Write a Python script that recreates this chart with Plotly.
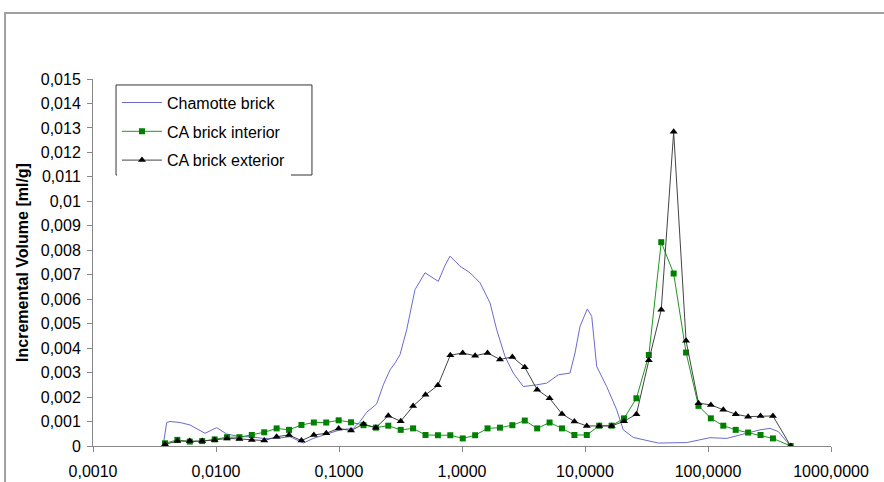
import plotly.graph_objects as go

# ---------------- data ----------------
chamotte_d = [0.003727, 0.003973, 0.004227, 0.005096, 0.006144, 0.007180, 0.008139, 0.01013,
              0.01222, 0.01567, 0.01890, 0.02424, 0.03114, 0.03997, 0.05126, 0.06181, 0.07943,
              0.1019, 0.1307, 0.1482, 0.1680, 0.2025, 0.2292, 0.2598, 0.2853, 0.3132, 0.3551,
              0.4148, 0.5002, 0.5494, 0.6417, 0.7274, 0.7988, 0.9632, 1.161, 1.401, 1.689,
              1.915, 2.237, 2.613, 3.150, 4.049, 4.883, 6.066, 7.551, 8.292, 9.107, 10.44,
              11.34, 12.45, 15.01, 18.10, 20.48, 24.70, 31.74, 39.44, 67.11, 103.8, 141.9,
              206.4, 264.8, 319.2, 372.9, 436.3, 479.2]
chamotte_v = [0.00005, 0.00096, 0.00100, 0.00096, 0.00086, 0.00068, 0.00052, 0.00075,
              0.00049, 0.00038, 0.00038, 0.00031, 0.00031, 0.00038, 0.00012, 0.00031, 0.00050,
              0.00066, 0.00072, 0.00100, 0.00138, 0.00172, 0.00250, 0.00311, 0.00339, 0.00373,
              0.00475, 0.00639, 0.00708, 0.00694, 0.00673, 0.00738, 0.00776, 0.00735, 0.00708,
              0.00667, 0.00585, 0.00475, 0.00366, 0.00298, 0.00243, 0.00250, 0.00257, 0.00291,
              0.00298, 0.00380, 0.00489, 0.00560, 0.00530, 0.00325, 0.00243, 0.00148, 0.00066,
              0.00035, 0.00022, 0.00012, 0.00014, 0.00034, 0.00031, 0.00052, 0.00066, 0.00072,
              0.00059, 0.00018, 0.00003]

ca_d = [0.00385, 0.00485, 0.00612, 0.00772, 0.00975, 0.01229, 0.01550, 0.01955, 0.02466,
        0.03111, 0.03924, 0.04950, 0.06245, 0.07877, 0.09936, 0.1253, 0.1581, 0.1994, 0.2516,
        0.3174, 0.4003, 0.5050, 0.6370, 0.8035, 1.0136, 1.279, 1.613, 2.035, 2.567, 3.238,
        4.085, 5.153, 6.500, 8.200, 10.34, 13.05, 16.46, 20.76, 26.19, 33.04, 41.68, 52.58,
        66.33, 83.67, 105.5, 133.2, 168.0, 211.9, 267.3, 337.2, 470.0]

ca_interior_v = [0.00011, 0.00025, 0.00018, 0.00020, 0.00027, 0.00036, 0.00036, 0.00045,
                 0.00056, 0.00072, 0.00066, 0.00086, 0.00096, 0.00096, 0.00105, 0.00097,
                 0.00085, 0.00075, 0.00083, 0.00066, 0.00072, 0.00045, 0.00044, 0.00044,
                 0.00031, 0.00044, 0.00072, 0.00075, 0.00085, 0.00104, 0.00072, 0.00096,
                 0.00072, 0.00045, 0.00045, 0.00083, 0.00083, 0.00113, 0.00195, 0.00372,
                 0.00833, 0.00705, 0.00382, 0.00164, 0.00113, 0.00083, 0.00066, 0.00055,
                 0.00045, 0.00031, 0.0]

ca_exterior_v = [0.00007, 0.00020, 0.00020, 0.00020, 0.00025, 0.00031, 0.00029, 0.00025,
                 0.00022, 0.00038, 0.00045, 0.00022, 0.00045, 0.00052, 0.00072, 0.00063,
                 0.00090, 0.00075, 0.00124, 0.00101, 0.00163, 0.00209, 0.00248, 0.00371,
                 0.00380, 0.00369, 0.00380, 0.00354, 0.00364, 0.00322, 0.00230, 0.00195,
                 0.00131, 0.00100, 0.00082, 0.00082, 0.00082, 0.00101, 0.00130, 0.00350,
                 0.00557, 0.01284, 0.00430, 0.00175, 0.00168, 0.00148, 0.00130, 0.00120,
                 0.00123, 0.00123, 0.0]

x_tickvals = [0.001, 0.01, 0.1, 1, 10, 100, 1000]
x_ticktext = ["0,0010", "0,0100", "0,1000", "1,0000", "10,0000", "100,0000", "1000,0000"]
y_tickvals = [0, 0.001, 0.002, 0.003, 0.004, 0.005, 0.006, 0.007, 0.008, 0.009,
              0.010, 0.011, 0.012, 0.013, 0.014, 0.015]
y_ticktext = ["0", "0,001", "0,002", "0,003", "0,004", "0,005", "0,006", "0,007", "0,008",
              "0,009", "0,01", "0,011", "0,012", "0,013", "0,014", "0,015"]

FONT = "Liberation Sans, Arial, sans-serif"
FS = 16

fig = go.Figure()
fig.add_trace(go.Scatter(x=chamotte_d, y=chamotte_v, mode="lines", name="Chamotte brick",
                         legendgroup="a",
                         line=dict(color="#6A6ACF", width=1)))
fig.add_trace(go.Scatter(x=ca_d, y=ca_interior_v, mode="lines+markers", name="CA brick interior",
                         legendgroup="b",
                         line=dict(color="#1E961E", width=1),
                         marker=dict(symbol="square", size=6, color="#008000")))
fig.add_trace(go.Scatter(x=ca_d, y=ca_exterior_v, mode="lines+markers", name="CA brick exterior",
                         legendgroup="c",
                         line=dict(color="#444444", width=1),
                         marker=dict(symbol="triangle-up", size=7, color="#000000")))

fig.update_layout(
    width=884, height=482,
    margin=dict(l=93, r=53, t=79, b=36),
    paper_bgcolor="white", plot_bgcolor="white",
    font=dict(family=FONT, size=FS, color="black"),
    showlegend=True,
    legend=dict(x=0.0325, y=0.982, xanchor="left", yanchor="top",
                bgcolor="white", borderwidth=0,
                font=dict(family=FONT, size=FS, color="black"),
                tracegroupgap=5, itemwidth=40),
    xaxis=dict(type="log", range=[-3, 3], tickvals=x_tickvals, ticktext=x_ticktext,
               showgrid=False, zeroline=False, showline=True, linecolor="#888888",
               linewidth=1, ticks="outside", ticklen=5, tickcolor="#888888",
               automargin=False, ticklabelstandoff=6,
               tickfont=dict(family=FONT, size=FS, color="black")),
    yaxis=dict(range=[0, 0.015], tickvals=y_tickvals, ticktext=y_ticktext,
               showgrid=False, zeroline=False, showline=True, linecolor="#888888",
               linewidth=1, ticks="outside", ticklen=5, tickcolor="#888888",
               automargin=False, ticklabelstandoff=3,
               tickfont=dict(family=FONT, size=FS, color="black"),
               title=dict(text="<b>Incremental Volume [ml/g]</b>",
                          font=dict(family=FONT, size=FS, color="black"), standoff=8)),
    shapes=[
        dict(type="rect", xref="paper", yref="paper",
             x0=-0.1192, x1=1.2, y0=-0.2, y1=1.1798,
             line=dict(color="#A0A0A0", width=2), fillcolor="rgba(0,0,0,0)",
             layer="below"),
        dict(type="rect", xref="paper", yref="paper",
             x0=0.0312, x1=0.2967, y0=0.7384, y1=0.9837,
             line=dict(color="#333333", width=1), fillcolor="white",
             layer="above"),
    ],
)

fig.write_html("out.html", config={"displayModeBar": False},
               post_script="document.body.style.margin='0px';document.body.style.padding='0px';")
